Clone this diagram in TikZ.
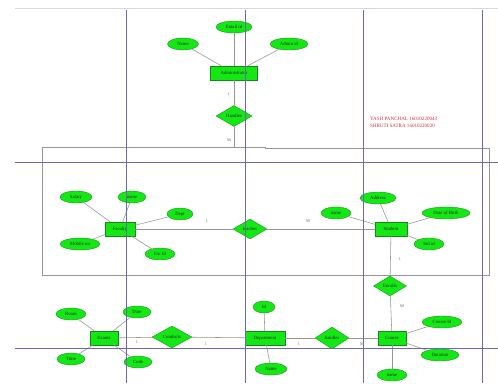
\documentclass[tikz,border=0pt]{standalone}
\usepackage{fontspec}
\setmainfont{Liberation Serif}
\usetikzlibrary{shapes.geometric}
\definecolor{ergreen}{RGB}{20,232,20}
\definecolor{erborder}{RGB}{20,140,20}
\definecolor{guide}{RGB}{105,105,175}
\definecolor{linkgray}{RGB}{150,150,150}
\definecolor{namered}{RGB}{215,45,70}
\begin{document}
\begin{tikzpicture}[x=0.5mm,y=-0.5mm,
  every node/.style={font=\fontsize{6.8}{7.5}\selectfont, text=black!85},
  entity/.style={rectangle,draw=erborder,fill=ergreen,line width=0.5pt,inner sep=0pt,minimum height=7mm},
  attr/.style={ellipse,draw=erborder,fill=ergreen,line width=0.5pt,inner sep=0pt,minimum height=6mm},
  rel/.style={diamond,draw=erborder,fill=ergreen,line width=0.5pt,inner sep=0pt},
  link/.style={draw=linkgray,line width=0.8pt},
  card/.style={text=black!60,font=\fontsize{6}{7}\selectfont},
  guideline/.style={draw=guide,line width=0.6pt},
  frame/.style={draw=linkgray,line width=0.9pt}]
\useasboundingbox (0,0) rectangle (498,383);
\fill[white] (0,0) rectangle (498,383);
% faint top edge
\draw[black!15,line width=0.5pt] (15,8) -- (498,8);
% gray frame
\draw[frame] (42,147) -- (265,147) -- (265,148) -- (489,148) -- (489,275) -- (42,275) -- cycle;

% Administrator
\node[entity,minimum width=23.5mm] (admin) at (234,73) {Administrator};
\node[attr,minimum width=18mm] (email) at (234,27) {Email id};
\node[attr,minimum width=15.5mm] (aname) at (183,44) {Name};
\node[attr,minimum width=19mm] (adminid) at (289,44) {Admin id};
\node[rel,minimum width=18mm,minimum height=10.5mm] (handles1) at (234,116) {Handles};
\coordinate (frametop) at (234,147);

% Faculty
\node[entity,minimum width=15mm] (faculty) at (120,229) {Faculty};
\node[attr,minimum width=16mm] (salary) at (76,197) {Salary};
\node[attr,minimum width=14mm] (fname) at (132,197) {name};
\node[attr,minimum width=13mm] (dept) at (180,214) {Dept};
\node[attr,minimum width=20mm] (mobile) at (80,244) {Mobile no};
\node[attr,minimum width=15mm] (facid) at (160,254) {Fac Id};

\node[rel,minimum width=17mm,minimum height=10mm] (teaches) at (250,229) {teaches};

% Student
\node[entity,minimum width=16mm] (student) at (391,229) {Student};
\node[attr,minimum width=18mm] (address) at (378,198) {Address};
\node[attr,minimum width=15mm] (sname) at (336,213) {name};
\node[attr,minimum width=24mm] (dob) at (446,213) {Date of Birth};
\node[attr,minimum width=15mm] (stdid) at (429,244) {Std.id};

\node[rel,minimum width=16.5mm,minimum height=10mm] (enrolls) at (390,286) {Enrolls};

% Course
\node[entity,minimum width=14mm] (course) at (392,338) {Course};
\node[attr,minimum width=20mm] (courseid) at (442,322) {Course Id};
\node[attr,minimum width=19mm] (duration) at (440,355) {Duration};
\node[attr,minimum width=15mm] (cname) at (392,375) {name};

\node[rel,minimum width=17mm,minimum height=11mm] (handles2) at (332,338) {handles};

% Department
\node[entity,minimum width=20mm] (deptm) at (265,338) {Department};
\node[attr,minimum width=11mm] (did) at (264,307) {Id};
\node[attr,minimum width=16mm] (dname) at (271,369) {Name};

\node[rel,minimum width=20mm,minimum height=11mm] (conducts) at (172,337) {Conducts};

% Exams
\node[entity,minimum width=14mm] (exams) at (104,338) {Exams};
\node[attr,minimum width=15mm] (room) at (71,314) {Room};
\node[attr,minimum width=14mm] (date) at (137,312) {Date};
\node[attr,minimum width=14mm] (time) at (71,359) {Time};
\node[attr,minimum width=14mm] (code) at (138,362) {Code};

% connectors
\draw[link] (admin) -- (email);
\draw[link] (admin) -- (aname);
\draw[link] (admin) -- (adminid);
\draw[link] (admin) -- (handles1);
\draw[link] (handles1) -- (frametop);

\draw[link] (faculty) -- (salary);
\draw[link] (faculty) -- (fname);
\draw[link] (faculty) -- (dept);
\draw[link] (faculty) -- (mobile);
\draw[link] (faculty) -- (facid);
\draw[link] (faculty) -- (teaches);
\draw[link] (teaches) -- (student);

\draw[link] (student) -- (address);
\draw[link] (student) -- (sname);
\draw[link] (student) -- (dob);
\draw[link] (student) -- (stdid);
\draw[link] (student) -- (enrolls);
\draw[link] (enrolls) -- (course);

\draw[link] (course) -- (courseid);
\draw[link] (course) -- (duration);
\draw[link] (course) -- (cname);
\draw[link] (course) -- (handles2);
\draw[link] (handles2) -- (deptm);
\draw[link] (deptm) -- (did);
\draw[link] (deptm) -- (dname);
\draw[link] (deptm) -- (conducts);
\draw[link] (conducts) -- (exams);

\draw[link] (exams) -- (room);
\draw[link] (exams) -- (date);
\draw[link] (exams) -- (time);
\draw[link] (exams) -- (code);

% cardinalities
\node[card] (c1) at (229,94) {1};
\node[card] (c2) at (229,140) {M};
\node[card] (c3) at (207,221) {1};
\node[card] (c4) at (308,221) {M};
\node[card] (c5) at (400,259) {1};
\node[card] (c6) at (402,306) {M};
\node[card] (c7) at (299,344) {1};
\node[card] (c8) at (362,344) {M};
\node[card] (c9) at (137,342) {1};
\node[card] (c10) at (206,344) {1};

% names
\node[anchor=west,text=namered,font=\fontsize{7.2}{9.5}\selectfont,align=left,inner sep=0pt] (names) at (370,122.5) {YASH PANCHAL 16010220043\\SHRUTI SATRA 16010220020};

% blue guide lines (on top)
\draw[guideline] (126,10) -- (126,383);
\draw[guideline] (245,10) -- (245,383);
\draw[guideline] (363,10) -- (363,383);
\draw[guideline] (482,10) -- (482,383);
\draw[guideline] (15,162) -- (498,162);
\draw[guideline] (15,348) -- (498,348);
\end{tikzpicture}
\end{document}
